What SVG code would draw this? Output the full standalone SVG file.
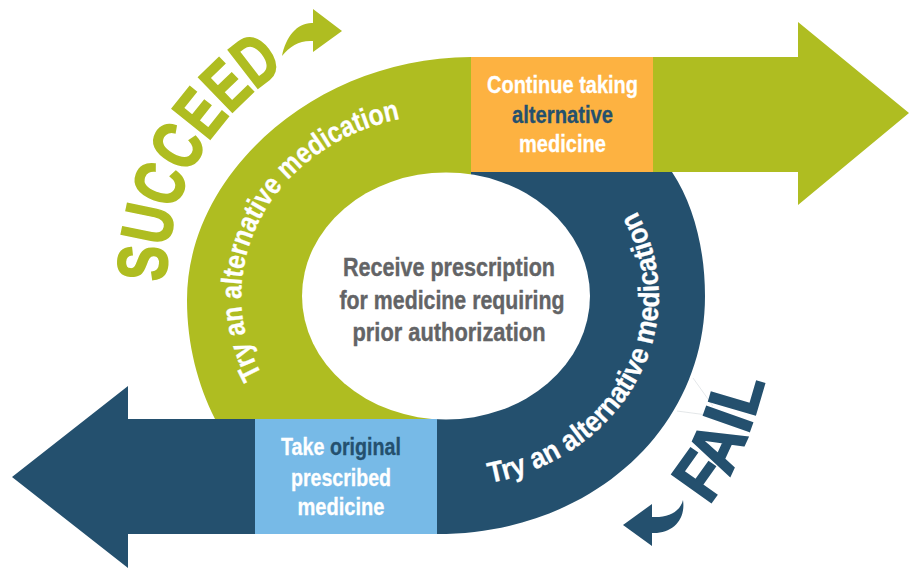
<svg xmlns="http://www.w3.org/2000/svg" width="909" height="569" viewBox="0 0 909 569">
<style>
text{font-family:"Liberation Sans Narrow","Liberation Sans",sans-serif;font-weight:700}
.c{text-anchor:middle}
.m{font-size:26px;fill:#636466;stroke:#636466;stroke-width:.4px}
.b{font-size:24px;fill:#fff;stroke:#fff;stroke-width:.3px}
.d{fill:#24506e;stroke:#24506e}
.n{fill:#24506e}
.g{fill:#afbd21}
.arc{font-size:29px;fill:#fff;stroke:#fff;stroke-width:.3px}
.big{font-size:70px;stroke-width:2px}
</style>
<defs>
<path id="pg" d="M262,375 A204,181 0 0 1 471,116"/>
<path id="pb" d="M490,483 A213,191 0 0 0 583,150"/>
<path id="ps" d="M166,282 C168,185 210,105 330,40"/>
<path id="pf" d="M708,505 Q748,462 772,350"/>
</defs>
<g id="connectors">
<path class="g" d="M471,57 C320,57 187,170 187,300 C187,345 198,385 215,419 L446,419 L446,296 L471,296 Z"/>
<path class="g" d="M653,57H798V22L909,113L798,205V172H653Z"/>
<path class="n" d="M471,172 L672,172 C694,205 705,250 705,296 C705,430 590,534 437,534 L437,419 L446,419 L446,296 L471,296 Z"/>
<path class="n" d="M255,419H128V386L12,477L128,568V534H255Z"/>
<path class="g" d="M342,31L313,9V23C298,22 286,36 282,56C290,46 300,40 313,41V52Z"/>
<path class="n" d="M623,525L652,504V517C668,518 680,512 683,500C686,520 672,534 652,533V546Z"/>
<path d="M693,378L713,406M677,411L707,415" fill="none" stroke="#d9dde0" stroke-width="0.7"/>
</g>
<g id="center"><ellipse cx="446" cy="296" rx="144" ry="123.500" fill="#fff"/>
<text class="m c" x="449" y="276" textLength="212" lengthAdjust="spacingAndGlyphs">Receive prescription</text>
<text class="m c" x="452" y="309" textLength="225" lengthAdjust="spacingAndGlyphs">for medicine requiring</text>
<text class="m c" x="449" y="341" textLength="193" lengthAdjust="spacingAndGlyphs">prior authorization</text></g>
<g id="continue"><rect x="471" y="57" width="182" height="115" fill="#fdb241"/>
<text class="b c" x="562.500" y="93" textLength="151" lengthAdjust="spacingAndGlyphs">Continue taking</text>
<text class="b c d" x="562.500" y="123" textLength="101" lengthAdjust="spacingAndGlyphs">alternative</text>
<text class="b c" x="562.500" y="152" textLength="87" lengthAdjust="spacingAndGlyphs">medicine</text></g>
<g id="take"><rect x="255" y="419" width="182" height="115" fill="#77bae7"/>
<text class="b c" x="341" y="455" textLength="120" lengthAdjust="spacingAndGlyphs">Take <tspan class="d">original</tspan></text>
<text class="b c" x="341" y="486" textLength="100" lengthAdjust="spacingAndGlyphs">prescribed</text>
<text class="b c" x="341" y="515" textLength="87" lengthAdjust="spacingAndGlyphs">medicine</text></g>
<g id="try-green"><text class="arc"><textPath href="#pg" textLength="340" lengthAdjust="spacingAndGlyphs">Try an alternative medication</textPath></text></g>
<g id="try-blue"><text class="arc"><textPath href="#pb" textLength="362" lengthAdjust="spacingAndGlyphs">Try an alternative medication</textPath></text></g>
<g id="succeed"><text class="big g" stroke="#afbd21"><textPath href="#ps" textLength="256" lengthAdjust="spacingAndGlyphs">SUCCEED</textPath></text></g>
<g id="fail"><text class="big d"><textPath href="#pf" textLength="137" lengthAdjust="spacingAndGlyphs">FAIL</textPath></text></g>
</svg>
